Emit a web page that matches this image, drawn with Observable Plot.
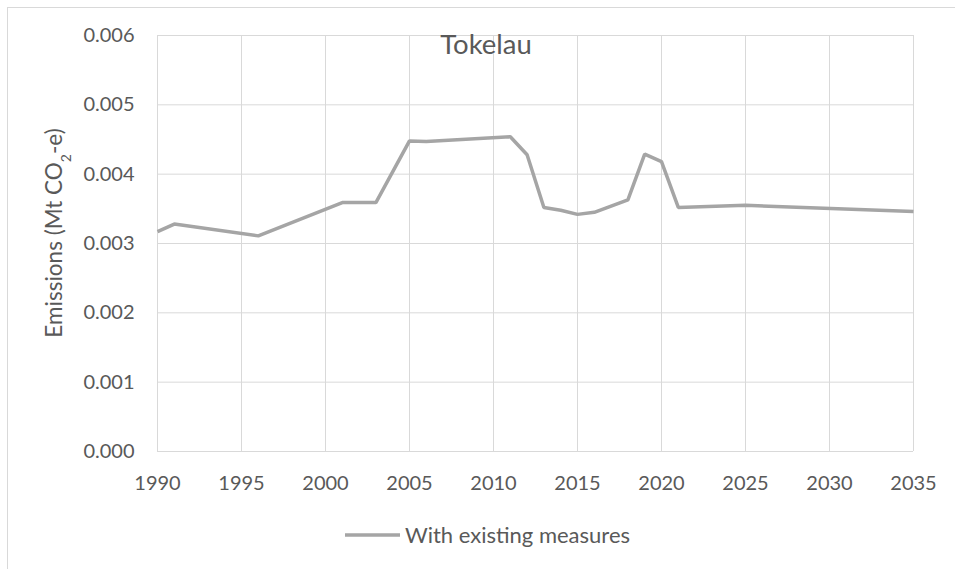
<!DOCTYPE html>
<html><head><meta charset="utf-8">
<script src="https://cdn.jsdelivr.net/npm/d3@7"></script>
<script src="https://cdn.jsdelivr.net/npm/@observablehq/plot@0.6"></script>
<style>
body{margin:0;background:#fff;}
#chart{position:relative;width:955px;height:569px;overflow:hidden;}
#frame{position:absolute;left:7px;top:7px;width:1100px;height:1100px;border:1px solid #d9d9d9;box-sizing:border-box;pointer-events:none;}
#chart svg{position:absolute;left:0;top:0;}
</style></head><body><div id="chart"><div id="frame"></div></div>
<script>
const years = [1990, 1991, 1996, 2001, 2003, 2005, 2006, 2011, 2012, 2013, 2014, 2015, 2016, 2018, 2019, 2020, 2021, 2025, 2035];
const emissions = [0.00317, 0.00328, 0.00311, 0.00359, 0.00359, 0.00448, 0.00447, 0.00454, 0.00428, 0.00352, 0.00348, 0.00342, 0.00345, 0.00363, 0.00429, 0.00418, 0.00352, 0.00355, 0.00346];
const yTicks = [0, 0.001, 0.002, 0.003, 0.004, 0.005, 0.006];
const xTicks = [1990, 1995, 2000, 2005, 2010, 2015, 2020, 2025, 2030, 2035];
const seriesName = "With existing measures";
const chartTitle = "Tokelau";
const yLabelMain = "Emissions (Mt CO";
const yLabelSub = "2";
const yLabelEnd = "-e)";

const data = years.map((year, i) => ({year, value: emissions[i]}));
const font = "Lato, 'Open Sans', sans-serif";
const textColor = "#595959";
const lineColor = "#a5a5a5";

const plot = Plot.plot({
  width: 955, height: 569,
  marginLeft: 157, marginRight: 42, marginTop: 35, marginBottom: 118,
  style: {fontFamily: font, fontSize: "20px", color: textColor, background: "transparent", overflow: "visible"},
  x: {domain: [1990, 2035], label: null},
  y: {domain: [0, 0.006], label: null},
  marks: [
    Plot.gridY(yTicks, {stroke: "#d9d9d9", strokeOpacity: 1, strokeWidth: 1}),
    Plot.gridX(xTicks, {stroke: "#d9d9d9", strokeOpacity: 1, strokeWidth: 1}),
    Plot.axisX(xTicks, {tickSize: 0, tickPadding: 24, tickFormat: d => String(d), label: null, fill: textColor}),
    Plot.axisY(yTicks, {tickSize: 0, tickPadding: 23, tickFormat: d => d.toFixed(3), label: null, fill: textColor}),
    Plot.line(data, {x: "year", y: "value", stroke: lineColor, strokeWidth: 3.5, strokeLinejoin: "miter", strokeLinecap: "butt"})
  ]
});
document.getElementById("chart").appendChild(plot);

const svg = d3.select(plot);
// Title
svg.append("text")
  .attr("x", 486).attr("y", 54)
  .attr("text-anchor", "middle")
  .attr("fill", textColor)
  .style("font-family", font).style("font-size", "27.5px")
  .text(chartTitle);
// Y label with subscript
const yl = svg.append("text")
  .attr("transform", "translate(62,233) rotate(-90)")
  .attr("text-anchor", "middle")
  .attr("fill", textColor)
  .style("font-family", font).style("font-size", "22.5px");
yl.append("tspan").text(yLabelMain);
yl.append("tspan").attr("baseline-shift", "sub").style("font-size", "14px").text(yLabelSub);
yl.append("tspan").text(yLabelEnd);
// Legend
svg.append("line")
  .attr("x1", 345).attr("x2", 400).attr("y1", 535).attr("y2", 535)
  .attr("stroke", lineColor).attr("stroke-width", 3.5);
svg.append("text")
  .attr("x", 405).attr("y", 535).attr("dy", "0.35em")
  .attr("text-anchor", "start")
  .attr("fill", textColor)
  .style("font-family", font).style("font-size", "22px")
  .text(seriesName);
</script>
</body></html>
